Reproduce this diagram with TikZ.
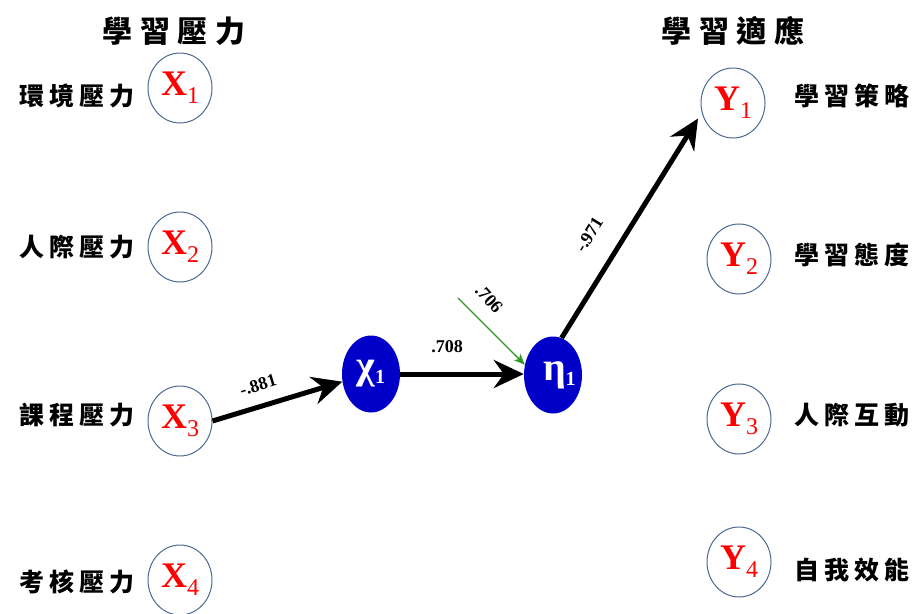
\documentclass[tikz,border=0pt]{standalone}
\usepackage{fontspec}
\setmainfont{Liberation Serif}
\newfontfamily\cjk{Noto Sans CJK TC}
\usetikzlibrary{arrows.meta,shapes.geometric}
\definecolor{ringc}{RGB}{75,105,145}
\definecolor{latc}{RGB}{0,0,200}
\definecolor{grn}{RGB}{50,150,40}
\newcommand\obslab[2]{\textcolor{red}{\fontsize{36}{36}\selectfont\bfseries #1}\textcolor{red}{\raisebox{-8pt}{\fontsize{24}{24}\selectfont #2}}}
\newcommand\latlab[2]{\textcolor{white}{\fontsize{40}{40}\selectfont\bfseries #1\raisebox{-5pt}{\fontsize{20}{20}\selectfont #2}}}
\begin{document}
\begin{tikzpicture}[x=1pt,y=-1pt,
  obs/.style={draw=ringc, line width=1pt, ellipse, minimum width=64pt, minimum height=70pt, inner sep=0pt},
  lat/.style={ellipse, fill=latc, minimum width=58pt, minimum height=77pt, inner sep=0pt},
  lbl/.style={font=\cjk\bfseries\fontsize{25}{25}\selectfont\addfontfeature{LetterSpace=20}, inner sep=0pt},
  ttl/.style={font=\cjk\bfseries\fontsize{30}{30}\selectfont\addfontfeature{LetterSpace=25}, inner sep=0pt},
  num/.style={font=\bfseries\fontsize{18}{18}\selectfont, inner sep=0pt},
  arr/.style={line width=5pt, -{Stealth[length=30pt,width=28pt,inset=10pt]}}
]
\useasboundingbox (0,0) rectangle (917,613);

% titles
\node[ttl] (t1) at (174,31) {學習壓力};
\node[ttl] (t2) at (733,31) {學習適應};

% observed X
\node[obs] (X1) at (180,88) {\obslab{X}{1}};
\node[obs] (X2) at (180,247) {\obslab{X}{2}};
\node[obs] (X3) at (180,421) {\obslab{X}{3}};
\node[obs] (X4) at (180,580) {\obslab{X}{4}};
\node[lbl] (lx1) at (77,96) {環境壓力};
\node[lbl] (lx2) at (77,247) {人際壓力};
\node[lbl] (lx3) at (77,415) {課程壓力};
\node[lbl] (lx4) at (77,582) {考核壓力};

% observed Y
\node[obs] (Y1) at (733,103) {\obslab{Y}{1}};
\node[obs] (Y2) at (739,259) {\obslab{Y}{2}};
\node[obs] (Y3) at (739,419) {\obslab{Y}{3}};
\node[obs] (Y4) at (739,562) {\obslab{Y}{4}};
\node[lbl] (ly1) at (852,96) {學習策略};
\node[lbl] (ly2) at (852,255) {學習態度};
\node[lbl] (ly3) at (852,415) {人際互動};
\node[lbl] (ly4) at (852,570) {自我效能};

% latent
\node[lat] (chi) at (371,374) {\latlab{χ}{1}};
\node[lat] (eta) at (553,375) {\makebox[30pt][l]{\hspace*{5pt}\latlab{η}{1}}};

% connectors
\draw[arr] (X3.east) -- (chi.195);
\draw[arr] (chi.east) -- (chi.east -| eta.west);
\draw[arr, shorten >=7pt] (eta.77) -- (Y1.197);
\coordinate (g) at (458,298);
\draw[grn, line width=1.3pt, -{Stealth[length=11pt,width=9pt,inset=3pt]}] (g) -- (eta.160);

% numbers
\node[num, rotate=17] (n1) at (258,385) {-.881};
\node[num] (n2) at (447,347) {.708};
\node[num, rotate=-48] (n3) at (489,299) {.706};
\node[num, rotate=58] (n4) at (589,235) {-.971};
\end{tikzpicture}
\end{document}
